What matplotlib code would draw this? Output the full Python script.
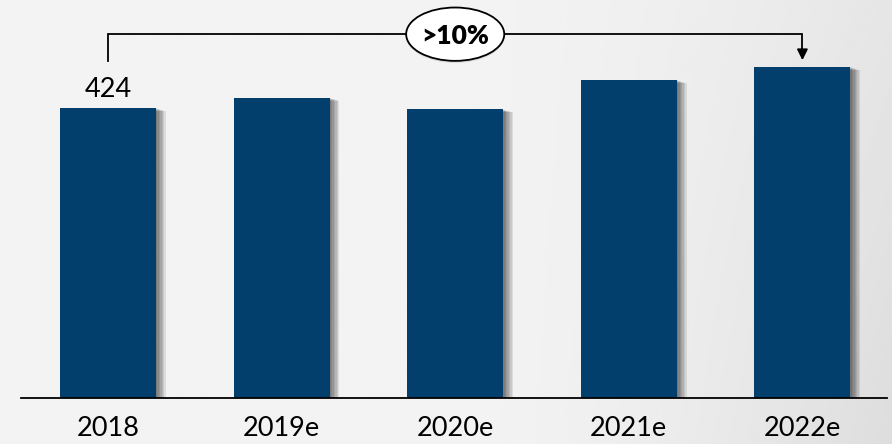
import numpy as np
import matplotlib
matplotlib.use("Agg")
import matplotlib.pyplot as plt
import matplotlib.patheffects as pe
from matplotlib.patches import Ellipse

plt.rcParams['font.family'] = ['Lato', 'DejaVu Sans']

# data
categories = ['2018', '2019e', '2020e', '2021e', '2022e']
values = [424, 439, 422, 465, 484]
first_label = '424'
growth_label = '>10%'

bar_color = '#023F6D'

fig = plt.figure(figsize=(8.92, 4.44), dpi=100)

# soft grey background, a little darker to the right
bg = fig.add_axes([0, 0, 1, 1], zorder=-10)
xx, yy = np.meshgrid(np.linspace(0, 1, 300), np.linspace(0, 1, 150))
shade = 0.952 - 0.085 * np.clip((xx - 0.5) / 0.5, 0, 1) ** 1.6 * (0.6 + 0.4 * yy)
bg.imshow(shade, cmap='gray', vmin=0, vmax=1, aspect='auto',
          extent=[0, 1, 0, 1], origin='upper')
bg.set_axis_off()

ax = fig.add_axes([0, 1 - 398 / 444, 1, 398 / 444])
ax.patch.set_alpha(0)
x = np.arange(len(categories))

# blurred-looking drop shadow, stacked offsets
shadow = [pe.SimplePatchShadow(offset=(d, -d * 0.3), shadow_rgbFace='black', alpha=0.09)
          for d in (1, 2, 3, 4, 5, 6, 7)]
bars = ax.bar(x, values, width=0.553, color=bar_color, zorder=3)
for b in bars:
    b.set_path_effects(shadow + [pe.Normal()])

ax.set_xlim(-0.622, 4.516)
ax.set_ylim(0, 582)

# baseline
ax.plot([-0.50, 4.49], [0, 0], color='black', lw=1.3, zorder=4, clip_on=False)

ax.set_xticks(x, categories)
ax.tick_params(axis='x', length=0, pad=13, labelsize=19.5, colors='black')
ax.set_yticks([])
for s in ax.spines.values():
    s.set_visible(False)

# value label on first bar
ax.annotate(first_label, (x[0], values[0]), xytext=(0, 8), textcoords='offset points',
            ha='center', va='baseline', fontsize=19.5)

# growth bracket
y_start = values[0] + 69
y_top = 532
y_tip = values[-1] + 10
ax.plot([x[0], x[0], x[-1], x[-1]], [y_start, y_top, y_top, y_tip + 14],
        color='black', lw=1.3, zorder=5, solid_joinstyle='miter')
ax.annotate('', xy=(x[-1], y_tip), xytext=(x[-1], y_tip + 16),
            arrowprops=dict(arrowstyle='-|>', color='black', lw=1.3,
                            mutation_scale=16, shrinkA=0, shrinkB=0), zorder=5)
ax.add_patch(Ellipse((2, y_top), 0.565, 78, facecolor='white', edgecolor='black',
                     lw=1.3, zorder=6, clip_on=False,
                     path_effects=[pe.SimplePatchShadow(offset=(0, -1.5), alpha=0.15),
                                   pe.Normal()]))
ax.text(2, y_top - 3, growth_label, ha='center', va='center', fontsize=19,
        fontweight='heavy', zorder=7)

fig.savefig('out.png', dpi=100)
